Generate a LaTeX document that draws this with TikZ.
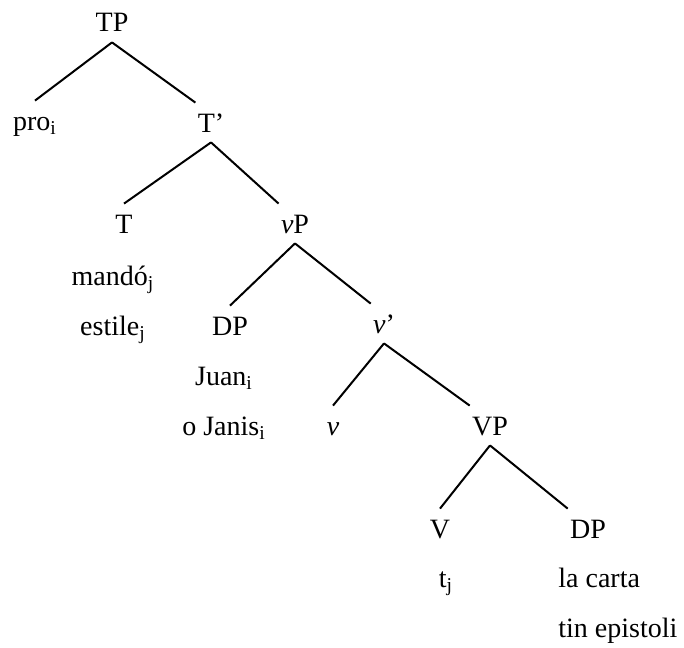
\documentclass[tikz,border=0pt]{standalone}
\usepackage{fontspec}
\setmainfont{Liberation Serif}
\usetikzlibrary{positioning}

\begin{document}
\begin{tikzpicture}[
    x=0.5pt, y=-0.5pt,
    cat/.style={anchor=base, font=\fontsize{14}{17}\selectfont, text height=9.5pt, text depth=0pt, inner xsep=1pt, inner ysep=5pt},
    word/.style={anchor=base, font=\fontsize{14}{17}\selectfont, inner sep=0pt},
    branch/.style={line width=1pt},
]
\useasboundingbox (0,0) rectangle (684,647);

% Categories
\node[cat] (tp) at (112,32) {TP};
\node[cat] (pro) at (35,130) {pro\textsubscript{i}};
\node[cat] (tbar) at (211,132) {T’};
\node[cat] (t) at (124,233) {T};
\node[cat] (vp) at (295,233) {\textit{v}P};
\node[cat] (dp) at (230,335) {DP};
\node[cat] (vbar) at (384,333) {\textit{v}’};
\node[cat] (v) at (333,435) {\textit{v}};
\node[cat] (bigvp) at (490,435) {VP};
\node[cat] (bigv) at (440,538) {V};
\node[cat] (obj) at (588,538) {DP};

% Lexical material
\node[word] (verb1) at (113,285) {mandó\textsubscript{j}};
\node[word] (verb2) at (113,335) {estile\textsubscript{j}};
\node[word] (subj1) at (224,385) {Juan\textsubscript{i}};
\node[word] (subj2) at (224,435) {o Janis\textsubscript{i}};
\node[word] (trace) at (446,587) {t\textsubscript{j}};
\node[word, anchor=base west] (obj1) at (558,587) {la carta};
\node[word, anchor=base west] (obj2) at (558,637) {tin epistoli};

% Branches
\draw[branch] (tp.south) -- (pro.north);
\draw[branch] (tp.south) -- (tbar.north west);
\draw[branch] (tbar.south) -- (t.north);
\draw[branch] (tbar.south) -- (vp.north west);
\draw[branch] (vp.south) -- (dp.north);
\draw[branch] (vp.south) -- (vbar.north west);
\draw[branch] (vbar.south) -- (v.north);
\draw[branch] (vbar.south) -- (bigvp.north west);
\draw[branch] (bigvp.south) -- (bigv.north);
\draw[branch] (bigvp.south) -- (obj.north west);
\end{tikzpicture}
\end{document}
